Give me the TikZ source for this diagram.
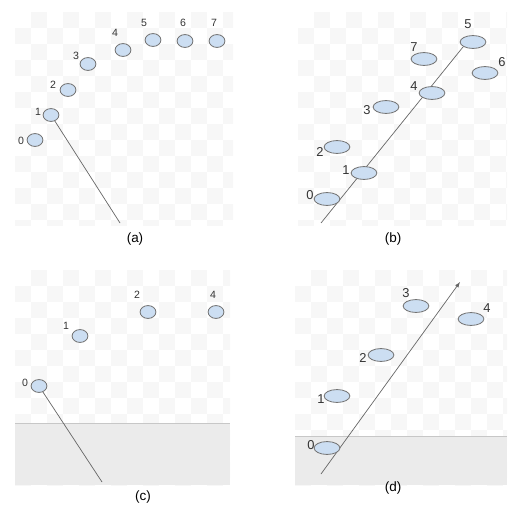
\documentclass[tikz,border=0pt]{standalone}
\usepackage{fontspec}
\setmainfont{Liberation Sans}
\usetikzlibrary{shapes.geometric}
\definecolor{ballblue}{RGB}{204,222,242}
\begin{document}
\begin{tikzpicture}[x=0.03cm, y=-0.03cm, >=latex]
  \tikzset{
    ball/.style={ellipse, draw=black!55, fill=ballblue, line width=0.7pt, inner sep=0pt, minimum width=13.5pt, minimum height=11pt},
    flatball/.style={ball, minimum width=22pt},
    num/.style={font=\fontsize{9}{9}\selectfont, text=black!80, inner sep=0pt},
    bignum/.style={font=\fontsize{11}{11}\selectfont, text=black!80, inner sep=0pt},
    track/.style={draw=black!60, line width=0.6pt},
    caption/.style={font=\fontsize{11.5}{11.5}\selectfont, inner sep=0pt}
  }
  \useasboundingbox (0,0) rectangle (507,509);
  % faint checkered backgrounds
  \foreach \xa/\ya/\xb/\yb in {15/12/233/225, 298/12/507/225, 15/270/230/485, 295/270/507/485}{
    \begin{scope}
      \clip (\xa,\ya) rectangle (\xb,\yb);
      \foreach \i in {0,...,13}
        \foreach \j in {0,...,13}{
          \ifodd\numexpr\i+\j\relax
            \fill[black!3] (\xa+16*\i,\ya+16*\j) rectangle ++(16,16);
          \fi
        }
    \end{scope}
  }
  % ground strips
  \fill[black!8] (15,423) rectangle (230,485);
  \draw[black!22, line width=0.8pt] (15,423) -- (230,423);
  \fill[black!8] (295,436) rectangle (507,485);
  \draw[black!22, line width=0.8pt] (295,436) -- (507,436);

  % (a)
  \node[ball] (a0) at (35,140) {};
  \node[ball] (a1) at (51,115) {};
  \node[ball] (a2) at (68,90) {};
  \node[ball] (a3) at (88,64) {};
  \node[ball] (a4) at (123,50) {};
  \node[ball] (a5) at (153,40) {};
  \node[ball] (a6) at (185,41) {};
  \node[ball] (a7) at (217,41) {};
  \node[num] (la0) at (21,141) {0};
  \node[num] (la1) at (38,112) {1};
  \node[num] (la2) at (53,85) {2};
  \node[num] (la3) at (76,56) {3};
  \node[num] (la4) at (115,33) {4};
  \node[num] (la5) at (144,23) {5};
  \node[num] (la6) at (183,23) {6};
  \node[num] (la7) at (214,23) {7};
  \coordinate (aend) at (120,223);
  \draw[track] (a1) -- (aend);
  \node[caption] (capa) at (135,239) {(a)};

  % (b)
  \coordinate (bstart) at (321,223);
  \coordinate (bend) at (463,47);
  \draw[track] (bstart) -- (bend);
  \node[flatball] (b0) at (327,199) {};
  \node[flatball] (b1) at (364,173) {};
  \node[flatball] (b2) at (337,147) {};
  \node[flatball] (b3) at (386,107) {};
  \node[flatball] (b4) at (432,93) {};
  \node[flatball] (b5) at (473,42) {};
  \node[flatball] (b6) at (485,73) {};
  \node[flatball] (b7) at (424,59) {};
  \node[bignum] (lb0) at (310,195) {0};
  \node[bignum] (lb1) at (346,170) {1};
  \node[bignum] (lb2) at (320,152) {2};
  \node[bignum] (lb3) at (367,110) {3};
  \node[bignum] (lb4) at (414,86) {4};
  \node[bignum] (lb5) at (468,24) {5};
  \node[bignum] (lb6) at (502,62) {6};
  \node[bignum] (lb7) at (414,47) {7};
  \node[caption] (capb) at (393,239) {(b)};

  % (c)
  \node[ball] (c0) at (39,386) {};
  \node[ball] (c1) at (80,336) {};
  \node[ball] (c2) at (148,312) {};
  \node[ball] (c4) at (216,312) {};
  \node[num] (lc0) at (25,383) {0};
  \node[num] (lc1) at (66,326) {1};
  \node[num] (lc2) at (137,295) {2};
  \node[num] (lc4) at (213,295) {4};
  \coordinate (cend) at (102,482);
  \draw[track] (c0) -- (cend);
  \node[caption] (capc) at (143,497) {(c)};

  % (d)
  \coordinate (dstart) at (321,474);
  \coordinate (dend) at (460,282);
  \draw[track, ->] (dstart) -- (dend);
  \node[flatball] (d0) at (327,448) {};
  \node[flatball] (d1) at (337,396) {};
  \node[flatball] (d2) at (381,355) {};
  \node[flatball] (d3) at (416,306) {};
  \node[flatball] (d4) at (471,319) {};
  \node[bignum] (ld0) at (311,445) {0};
  \node[bignum] (ld1) at (321,399) {1};
  \node[bignum] (ld2) at (363,358) {2};
  \node[bignum] (ld3) at (406,293) {3};
  \node[bignum] (ld4) at (487,308) {4};
  \node[caption] (capd) at (393,488) {(d)};
\end{tikzpicture}
\end{document}
